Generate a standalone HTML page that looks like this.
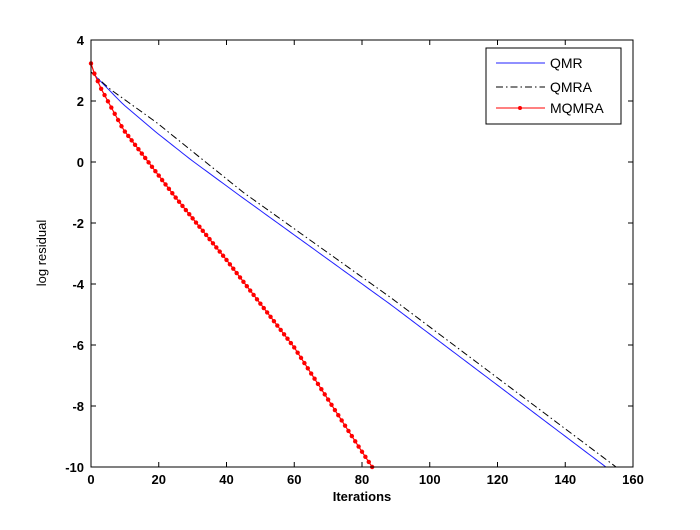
<!DOCTYPE html>
<html><head><meta charset="utf-8"><style>
body{margin:0;background:#fff;width:700px;height:525px;overflow:hidden}
text{font-family:"Liberation Sans",Arial,sans-serif}
</style></head><body>
<svg id="s" width="700" height="525" xmlns="http://www.w3.org/2000/svg">
<rect width="700" height="525" fill="#fff"/>
<g id="ax"></g>
<polyline id="qmr" fill="none" stroke="#2020ff" stroke-width="1"/>
<polyline id="qmra" fill="none" stroke="#000" stroke-width="1" stroke-dasharray="7,3,1.5,3"/>
<polyline id="mq" fill="none" stroke="#ff0000" stroke-width="1.2"/>
<g id="dots" fill="#ff0000"></g>
<rect x="91" y="40" width="542" height="427" fill="none" stroke="#000" stroke-width="1"/>
<rect x="486" y="48" width="135" height="76" fill="#fff" stroke="#000" stroke-width="1"/>
<line x1="496" y1="63" x2="545" y2="63" stroke="#2020ff"/>
<line x1="496" y1="87" x2="545" y2="87" stroke="#000" stroke-dasharray="7,3,1.5,3"/>
<line x1="496" y1="108" x2="545" y2="108" stroke="#ff0000"/>
<circle cx="520" cy="108" r="2" fill="#ff0000"/>
<text x="550" y="68" font-size="14">QMR</text>
<text x="550" y="92" font-size="14">QMRA</text>
<text x="550" y="113" font-size="14">MQMRA</text>
<text x="362" y="501" font-size="13" font-weight="bold" text-anchor="middle">Iterations</text>
<text transform="translate(46,253) rotate(-90)" font-size="13" text-anchor="middle">log residual</text>
</svg>
<script>
var X0=91,X1=633,Y0=40,Y1=467;
function px(x){return X0+(X1-X0)*x/160}
function py(y){return Y0+(Y1-Y0)*(4-y)/14}
var ax=document.getElementById('ax'),h='';
for(var i=0;i<=8;i++){var x=px(i*20);
h+='<line x1="'+x+'" y1="'+Y1+'" x2="'+x+'" y2="'+(Y1-5)+'" stroke="#000"/>';
h+='<line x1="'+x+'" y1="'+Y0+'" x2="'+x+'" y2="'+(Y0+5)+'" stroke="#000"/>';
h+='<text x="'+x+'" y="484" font-size="13" font-weight="bold" text-anchor="middle">'+(i*20)+'</text>';}
for(var j=0;j<=7;j++){var v=4-2*j,y=py(v);
h+='<line x1="'+X0+'" y1="'+y+'" x2="'+(X0+5)+'" y2="'+y+'" stroke="#000"/>';
h+='<line x1="'+X1+'" y1="'+y+'" x2="'+(X1-5)+'" y2="'+y+'" stroke="#000"/>';
h+='<text x="84" y="'+(y+5)+'" font-size="13" font-weight="bold" text-anchor="end">'+v+'</text>';}
ax.innerHTML=h;
function interp(pts,x){for(var k=1;k<pts.length;k++){if(x<=pts[k][0]){var a=pts[k-1],b=pts[k];return a[1]+(b[1]-a[1])*(x-a[0])/(b[0]-a[0]);}}return pts[pts.length-1][1];}
function line(id,pts,n){var s='';for(var i=0;i<=n;i++)s+=px(i)+','+py(interp(pts,i))+' ';document.getElementById(id).setAttribute('points',s);}
line('qmr',[[0,2.95],[1.2,2.83],[9.5,1.89],[19.4,0.96],[29.3,0.09],[44,-1.11],[88.4,-4.67],[152,-10]],152);
line('qmra',[[0,2.95],[5.6,2.39],[19.4,1.29],[45,-1.0],[88.4,-4.44],[155,-10]],155);
var mp=[[0,3.23],[1,2.9],[3,2.4],[9.5,1.07],[17.4,-0.07],[24.8,-1.14],[40,-3.21],[60,-6.08],[80,-9.5],[83,-10]];
line('mq',mp,83);
var d='';for(var i=0;i<=83;i++)d+='<circle cx="'+px(i)+'" cy="'+py(interp(mp,i))+'" r="2.2"/>';
document.getElementById('dots').innerHTML=d;
</script>
</body></html>
